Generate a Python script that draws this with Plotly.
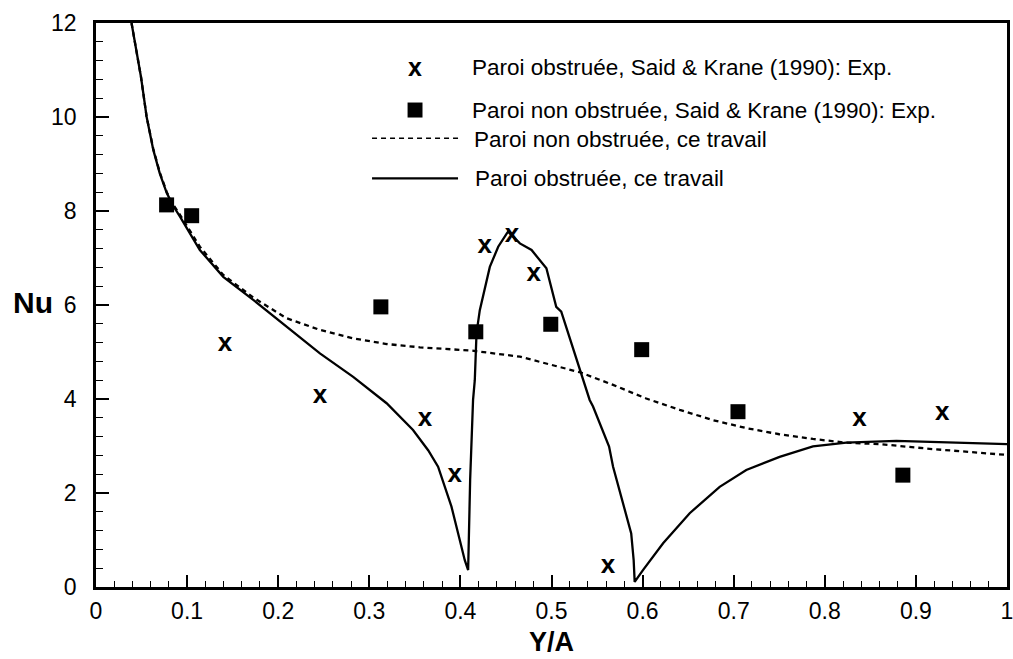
import plotly.graph_objects as go

# Experimental data, Said & Krane (1990)
exp_obstr_x = [0.1415, 0.2458, 0.361, 0.3939, 0.4268, 0.4567, 0.4805, 0.562, 0.838, 0.929]
exp_obstr_y = [5.15, 4.05, 3.56, 2.38, 7.24, 7.47, 6.64, 0.44, 3.57, 3.70]

exp_libre_x = [0.0775, 0.105, 0.3127, 0.4169, 0.4992, 0.599, 0.7047, 0.8857]
exp_libre_y = [8.13, 7.90, 5.96, 5.43, 5.59, 5.05, 3.73, 2.38]

# Present computation, obstructed wall
calc_obstr_x = [0.039, 0.0445, 0.0494, 0.0556, 0.0629, 0.0700, 0.0777, 0.0850, 0.0922,
                0.114, 0.1397, 0.1726, 0.209, 0.2458, 0.2823, 0.319, 0.348, 0.3646,
                0.3755, 0.3902, 0.3993, 0.4048, 0.4085, 0.4107, 0.4139, 0.4158, 0.4177,
                0.4213, 0.4323, 0.4415, 0.4508, 0.4523, 0.4653, 0.4781, 0.4944, 0.5052,
                0.5107, 0.531, 0.5419, 0.5456, 0.5632, 0.5676, 0.582, 0.5875, 0.5902,
                0.5913, 0.6004, 0.6225, 0.6517, 0.6846, 0.7138, 0.7504, 0.787, 0.8236,
                0.8785, 0.933, 1.0]
calc_obstr_y = [12.0, 11.4, 10.85, 10.0, 9.30, 8.80, 8.38, 8.10, 7.88,
                7.17, 6.60, 6.11, 5.54, 4.97, 4.47, 3.91, 3.34, 2.91,
                2.56, 1.71, 1.00, 0.57, 0.36, 2.28, 3.98, 4.40, 5.40,
                5.89, 6.81, 7.24, 7.52, 7.56, 7.31, 7.17, 6.78, 5.96,
                5.86, 4.66, 3.98, 3.84, 2.99, 2.56, 1.57, 1.14, 0.57,
                0.11, 0.36, 0.93, 1.57, 2.13, 2.49, 2.77, 2.99, 3.07,
                3.11, 3.08, 3.04]

# Present computation, unobstructed wall
calc_libre_x = [0.039, 0.0445, 0.0494, 0.0556, 0.0629, 0.0700, 0.0777, 0.0850, 0.0922,
                0.114, 0.1397, 0.1726, 0.209, 0.2458, 0.2823, 0.319, 0.3555, 0.4125,
                0.4653, 0.531, 0.5676, 0.604, 0.6407, 0.6773, 0.714, 0.75, 0.787,
                0.8236, 0.8602, 0.915, 0.9698, 1.0]
calc_libre_y = [12.0, 11.4, 10.85, 10.0, 9.32, 8.82, 8.40, 8.13, 7.92,
                7.24, 6.64, 6.16, 5.72, 5.47, 5.29, 5.17, 5.10, 5.03,
                4.90, 4.57, 4.30, 4.01, 3.77, 3.55, 3.38, 3.25, 3.15,
                3.07, 3.04, 2.94, 2.86, 2.81]

# Axis ticks
x_tickvals = [0, 0.1, 0.2, 0.3, 0.4, 0.5, 0.6, 0.7, 0.8, 0.9, 1.0]
x_ticktext = ["0", "0.1", "0.2", "0.3", "0.4", "0.5", "0.6", "0.7", "0.8", "0.9", "1"]
y_tickvals = [0, 2, 4, 6, 8, 10, 12]

legend_labels = [
    "Paroi obstruée, Said & Krane (1990): Exp.",
    "Paroi non obstruée, Said & Krane (1990): Exp.",
    "Paroi non obstruée, ce travail",
    "Paroi obstruée, ce travail",
]

FONT = "Liberation Sans, Arial, sans-serif"

fig = go.Figure()

fig.add_trace(go.Scatter(
    x=calc_libre_x, y=calc_libre_y, mode="lines",
    line=dict(color="black", width=2.3, dash="5px,4px"),
    name=legend_labels[2], showlegend=False, hoverinfo="skip",
))
fig.add_trace(go.Scatter(
    x=calc_obstr_x, y=calc_obstr_y, mode="lines",
    line=dict(color="black", width=2.3),
    name=legend_labels[3], showlegend=False, hoverinfo="skip",
))
fig.add_trace(go.Scatter(
    x=exp_libre_x, y=exp_libre_y, mode="markers",
    marker=dict(symbol="square", size=15, color="black", line=dict(width=0)),
    name=legend_labels[1], showlegend=False,
))
fig.add_trace(go.Scatter(
    x=exp_obstr_x, y=exp_obstr_y, mode="text", text=["x"] * len(exp_obstr_x),
    textposition="middle center",
    textfont=dict(family=FONT, size=26, color="black", weight="bold"),
    name=legend_labels[0], showlegend=False,
))

# Legend block drawn in paper coordinates
shapes = [
    dict(type="rect", xref="paper", yref="paper",
         x0=0.3420, x1=0.3584, y0=0.8324, y1=0.8590,
         fillcolor="black", line=dict(width=0)),
    dict(type="line", xref="paper", yref="paper",
         x0=0.3030, x1=0.3996, y0=0.7956, y1=0.7956,
         line=dict(color="black", width=1.6, dash="5px,4px")),
    dict(type="line", xref="paper", yref="paper",
         x0=0.3030, x1=0.3974, y0=0.7246, y1=0.7246,
         line=dict(color="black", width=2.2)),
]

annotations = [
    dict(text="x", xref="paper", yref="paper", x=0.3502, y=0.9225,
         xanchor="center", yanchor="middle", showarrow=False,
         font=dict(family=FONT, size=25, color="black", weight="bold")),
]
legend_pos = [(0.4105, 0.9207), (0.4105, 0.8440), (0.4124, 0.7938), (0.4142, 0.7246)]
for lbl, (lx, ly) in zip(legend_labels, legend_pos):
    annotations.append(dict(text=lbl, xref="paper", yref="paper", x=lx, y=ly,
                            xanchor="left", yanchor="middle", showarrow=False,
                            font=dict(family=FONT, size=22.5, color="black")))

# Axis titles
annotations.append(dict(text="<b>Nu</b>", xref="paper", yref="paper",
                        x=(33 - 96) / 911, y=(587 - 302) / 564,
                        xanchor="center", yanchor="middle", showarrow=False,
                        font=dict(family=FONT, size=30, color="black")))
annotations.append(dict(text="<b>Y/A</b>", xref="paper", yref="paper",
                        x=0.5, y=(587 - 659) / 564,
                        xanchor="center", yanchor="bottom", showarrow=False,
                        font=dict(family=FONT, size=27, color="black")))

fig.update_layout(
    width=1013, height=659,
    margin=dict(l=96, r=6, t=23, b=72, autoexpand=False),
    paper_bgcolor="white", plot_bgcolor="white",
    font=dict(family=FONT, color="black"),
    shapes=shapes, annotations=annotations,
    showlegend=False,
)

fig.update_xaxes(
    range=[0, 1], tickmode="array", tickvals=x_tickvals, ticktext=x_ticktext, tickangle=0,
    showgrid=False, zeroline=False,
    showline=True, linecolor="black", linewidth=2.5, mirror=True,
    ticks="inside", ticklen=12, tickwidth=2, tickcolor="black",
    minor=dict(ticks="inside", ticklen=6, tickwidth=1.2, tickcolor="black",
               tick0=0, dtick=0.02, showgrid=False),
    tickfont=dict(family=FONT, size=23, color="black"),
    ticklabelstandoff=2, ticklabeloverflow="allow", automargin=False,
)
fig.update_yaxes(
    range=[0, 12], tickmode="array", tickvals=y_tickvals,
    showgrid=False, zeroline=False,
    showline=True, linecolor="black", linewidth=2.5, mirror=True,
    ticks="inside", ticklen=13, tickwidth=2, tickcolor="black",
    minor=dict(ticks="inside", ticklen=7, tickwidth=1.2, tickcolor="black",
               tick0=0, dtick=0.4, showgrid=False),
    tickfont=dict(family=FONT, size=23, color="black"),
    ticklabelstandoff=12, ticklabeloverflow="allow", automargin=False,
)

fig.write_html("out.html")
